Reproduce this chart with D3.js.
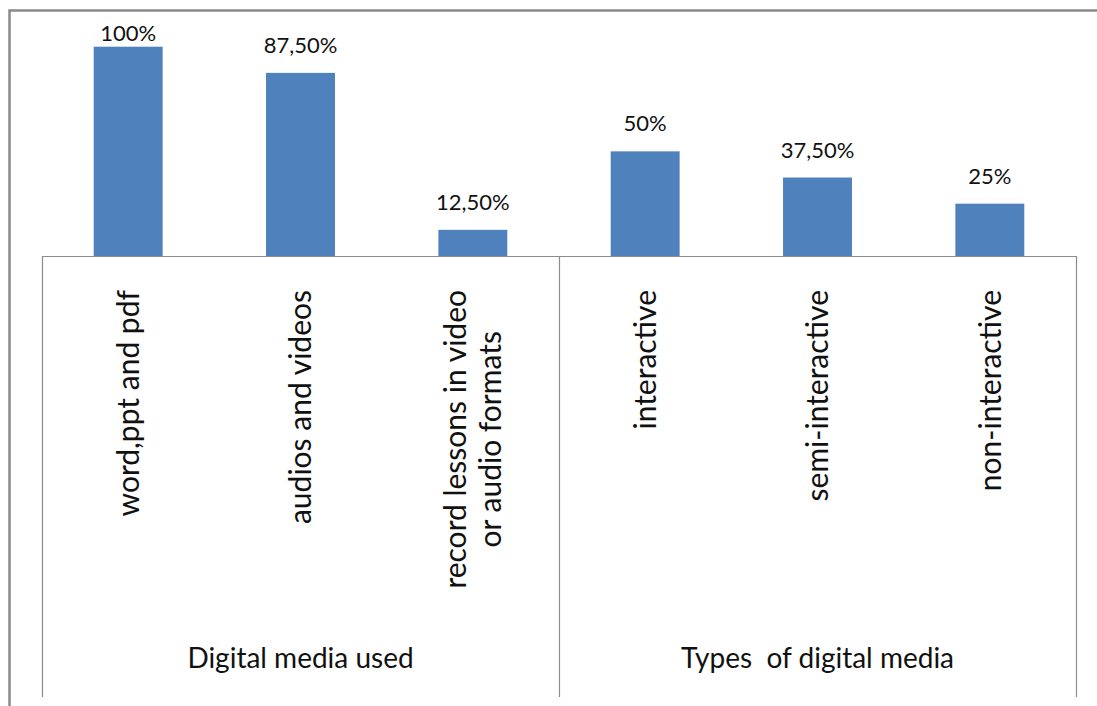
<!DOCTYPE html>
<html>
<head>
<meta charset="utf-8">
<script src="https://cdn.jsdelivr.net/npm/d3@7"></script>
<style>
  html, body { margin: 0; padding: 0; background: #fff; }
  svg { display: block; }
  text { font-family: Lato, "Open Sans", sans-serif; fill: #111; }
</style>
</head>
<body>
<svg id="chart" width="1097" height="706"></svg>
<script>
// Share of teachers per digital media category
const categories = [
  "word,ppt and pdf",
  "audios and videos",
  "record lessons in video\nor audio formats",
  "interactive",
  "semi-interactive",
  "non-interactive"
];
const values = [1.0, 0.875, 0.125, 0.5, 0.375, 0.25];
const groupNames = ["Digital media used", "Types  of digital media"];
const groupSizes = [3, 3];

const W = 1097, H = 706;
const left = 42, right = 1076, baseY = 256, topY = 46.7, bottomY = 697;

const svg = d3.select("#chart");

// outer chart frame (runs past the right and bottom edges)
svg.append("rect")
  .attr("x", 9.5).attr("y", 10.5)
  .attr("width", 1200).attr("height", 900)
  .attr("fill", "none")
  .attr("stroke", "#8a8a8a")
  .attr("stroke-width", 2.5);

const x = d3.scaleBand()
  .domain(categories)
  .range([left, right])
  .paddingInner(0.6)
  .paddingOuter(0.3);

const y = d3.scaleLinear().domain([0, 1]).range([baseY, topY]);

const fmt = v => {
  const p = v * 100;
  return (Number.isInteger(p) ? String(p) : p.toFixed(2).replace(".", ",")) + "%";
};

// bars
svg.append("g").selectAll("rect")
  .data(values)
  .join("rect")
  .attr("x", (d, i) => x(categories[i]))
  .attr("y", d => y(d))
  .attr("width", x.bandwidth())
  .attr("height", d => baseY - y(d))
  .attr("fill", "#4f81bd");

// value labels above bars (kept inside the plot area)
svg.append("g").selectAll("text")
  .data(values)
  .join("text")
  .attr("x", (d, i) => x(categories[i]) + x.bandwidth() / 2)
  .attr("y", d => Math.max(y(d) - 20, 41))
  .attr("text-anchor", "middle")
  .style("font-size", "22px")
  .text(d => fmt(d));

// category axis: baseline, outer edges and group divider
const axis = svg.append("g")
  .attr("stroke", "#8c8c8c")
  .attr("stroke-width", 1.2)
  .attr("fill", "none");

axis.append("line")
  .attr("x1", left).attr("x2", right)
  .attr("y1", baseY + 0.5).attr("y2", baseY + 0.5);

// group boundaries on the category scale
const step = x.step();
const bounds = [left];
let acc = 0;
groupSizes.forEach(n => {
  acc += n;
  bounds.push(acc === categories.length ? right : x(categories[acc]) - x.paddingInner() * step / 2);
});
bounds.forEach(bx => {
  axis.append("line")
    .attr("x1", Math.round(bx) + 0.5).attr("x2", Math.round(bx) + 0.5)
    .attr("y1", baseY).attr("y2", bottomY);
});

// rotated category labels, hanging from just below the axis
const labelTop = 290;
const catSize = 30, lineH = 35;
categories.forEach(c => {
  const lines = c.split("\n");
  const cx = x(c) + x.bandwidth() / 2;
  const g = svg.append("g").attr("transform", `translate(${cx},${labelTop}) rotate(-90)`);
  const ts = lines.map((ln, i) => g.append("text")
    .attr("text-anchor", "middle")
    .attr("y", (i - (lines.length - 1) / 2) * lineH)
    .attr("dy", "0.36em")
    .style("font-size", catSize + "px")
    .text(ln));
  const maxW = d3.max(ts, t => t.node().getComputedTextLength());
  ts.forEach(t => t.attr("x", -maxW / 2));
});

// group labels
groupNames.forEach((gname, gi) => {
  const mid = (bounds[gi] + bounds[gi + 1]) / 2;
  svg.append("text")
    .attr("x", mid)
    .attr("y", 668)
    .attr("text-anchor", "middle")
    .attr("xml:space", "preserve")
    .style("white-space", "pre")
    .style("font-size", "28px")
    .text(gname);
});
</script>
</body>
</html>
